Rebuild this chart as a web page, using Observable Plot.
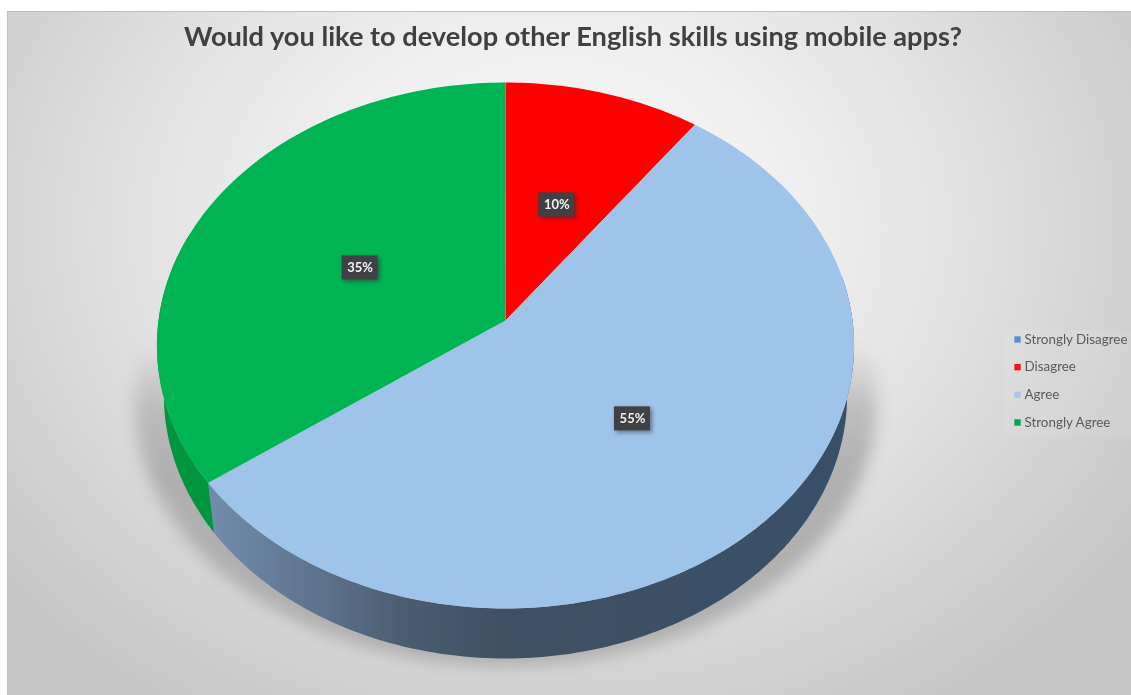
<!DOCTYPE html>
<html><head><meta charset="utf-8">
<script src="https://cdn.jsdelivr.net/npm/d3@7"></script>
<script src="https://cdn.jsdelivr.net/npm/@observablehq/plot@0.6"></script>
<style>
html,body{margin:0;padding:0;background:#fff;}
svg{display:block;}
</style></head><body><div id="chart"></div>
<script>
const title = "Would you like to develop other English skills using mobile apps?";
const categories = ["Strongly Disagree", "Disagree", "Agree", "Strongly Agree"];
const percents = [0, 10, 55, 35];
const sliceColors = ["#5b8ecb", "#ff0000", "#9fc4e9", "#00b454"];
const legendColors = ["#5b8ecb", "#f0121c", "#a9c5e6", "#00a651"];
const labelRadii = [0.5, 0.5, 0.5, 0.48];
const wallGreen = "#009640";

// Excel-like 3D perspective of the unit pie, in pixels relative to the pie centre
const A = 347, B = 260.6, K = 0.095, DEPTH = 50, TAPER = 0.98;
function project(deg, r = 1) {
  const t = deg * Math.PI / 180, u = r * Math.sin(t), v = r * Math.cos(t), w = 1 + K * v;
  return {x: A * u / w, y: B * v / w};
}
const arc = (a0, a1) => {
  const n = Math.max(1, Math.ceil(Math.abs(a1 - a0)));
  return d3.range(n + 1).map(i => a0 + (a1 - a0) * i / n);
};

// cumulative angles
let acc = 0;
const slices = categories.map((name, i) => {
  const a0 = acc * 3.6; acc += percents[i];
  return {name, pct: percents[i], a0, a1: acc * 3.6, lr: labelRadii[i]};
}).filter(d => d.pct > 0);

const topPts = slices.flatMap(s => [
  {slice: s.name, x: 0, y: 0},
  ...arc(s.a0, s.a1).map(a => ({slice: s.name, ...project(a)}))
]);
const VIS0 = 80, VIS1 = 290;
const wallOf = s => {
  const a0 = Math.max(s.a0, VIS0), a1 = Math.min(s.a1, VIS1);
  if (a1 <= a0) return [];
  const upper = arc(a0, a1).map(a => project(a));
  const lower = arc(a1, a0).map(a => { const p = project(a); return {x: p.x * TAPER, y: p.y - DEPTH}; });
  return [...upper, ...lower].map(p => ({slice: s.name, ...p}));
};
const blueWall = wallOf(slices.find(s => s.name === "Agree"));
const greenWall = wallOf(slices.find(s => s.name === "Strongly Agree"));
const shadow = arc(60, 300).map(a => { const p = project(a); return {x: p.x * 1.065, y: p.y - 58}; });
const labels = slices.map(s => ({...s, ...project((s.a0 + s.a1) / 2, s.lr), text: s.pct + "%"}));

const withCss = css => (index, scales, values, dims, ctx, next) => {
  const g = next(index, scales, values, dims, ctx);
  g.setAttribute("style", (g.getAttribute("style") || "") + ";" + css);
  return g;
};

const defs = () => {
  const d = document.createElementNS("http://www.w3.org/2000/svg", "defs");
  d.innerHTML = `
  <radialGradient id="bg" gradientUnits="userSpaceOnUse" cx="0" cy="0" r="1"
    gradientTransform="translate(550 225) scale(700 570)">
    <stop offset="0" stop-color="#fafafa"/><stop offset="0.35" stop-color="#efefef"/>
    <stop offset="0.62" stop-color="#e0e0e0"/><stop offset="0.82" stop-color="#d2d2d2"/>
    <stop offset="1" stop-color="#c6c6c6"/>
  </radialGradient>
  <linearGradient id="wall" gradientUnits="userSpaceOnUse" x1="213" x2="860" y1="0" y2="0">
    <stop offset="0" stop-color="#718ba9"/><stop offset="0.18" stop-color="#5b7189"/>
    <stop offset="0.3" stop-color="#4a5c6f"/><stop offset="0.45" stop-color="#3f5063"/>
    <stop offset="1" stop-color="#375068"/>
  </linearGradient>
  <linearGradient id="shadow" gradientUnits="userSpaceOnUse" x1="0" x2="0" y1="345" y2="470">
    <stop offset="0" stop-color="#adadad" stop-opacity="0"/>
    <stop offset="0.5" stop-color="#adadad" stop-opacity="0.7"/>
    <stop offset="1" stop-color="#adadad" stop-opacity="0.95"/>
  </linearGradient>`;
  return d;
};

const legendX = 1017, legendTextX = 1024, legendY = d3.scaleLinear().domain([0, 3]).range([-19, -102]);
const leg = categories.map((name, i) => ({name, color: legendColors[i]}));
const soft = withCss("filter:blur(.5px)");

const plot = Plot.plot({
  width: 1131, height: 695,
  marginTop: 0, marginRight: 0, marginBottom: 0, marginLeft: 0,
  x: {domain: [-505, 626], range: [0, 1131], axis: null},
  y: {domain: [320, -375], range: [0, 695], axis: null},
  color: {domain: categories, range: sliceColors},
  style: {background: "#fff", overflow: "visible"},
  marks: [
    defs,
    Plot.frame({fill: "url(#bg)", stroke: "#c2c2c2", strokeWidth: 1, insetLeft: 7, insetTop: 11, insetRight: -2, insetBottom: -2}),
    Plot.line(shadow, {x: "x", y: "y", fill: "url(#shadow)", stroke: "none", render: withCss("filter:blur(8px)")}),
    Plot.line(blueWall, {x: "x", y: "y", fill: "url(#wall)", stroke: "none", render: soft}),
    Plot.line(greenWall, {x: "x", y: "y", fill: wallGreen, stroke: "none", render: soft}),
    Plot.line(topPts, {x: "x", y: "y", z: "slice", fill: "slice", stroke: "none", render: soft}),
    Plot.rect(labels, {x1: "x", x2: "x", y1: "y", y2: "y", dy: 3, insetLeft: -18, insetRight: -18, insetTop: -12, insetBottom: -12,
      fill: "#3f4144", render: withCss("filter:drop-shadow(2px 2px 2px rgba(40,40,40,.55))")}),
    Plot.text(labels, {x: "x", y: "y", dy: 3, text: "text", fill: "#f4f4f4", fontSize: 13, fontWeight: 700, fontFamily: "Lato", render: withCss("filter:blur(.4px)")}),
    Plot.text([title], {frameAnchor: "top", dy: 26, dx: 7, text: d => d, fontFamily: "Lato", fontWeight: 700, fontSize: 27.2, fill: "#404040", lineAnchor: "top", render: withCss("filter:blur(.5px)")}),
    Plot.rect([0], {x1: 500, x2: 640, y1: -10, y2: -117, fill: "#ffffff", fillOpacity: 0.07}),
    Plot.dot(leg, {x: () => legendX - 505, y: (d, i) => legendY(i), symbol: "square", r: 3.6, fill: "color", render: withCss("filter:blur(.4px)")}),
    Plot.text(leg, {x: () => legendTextX - 505, y: (d, i) => legendY(i), text: "name", textAnchor: "start", fontFamily: "Lato", fontSize: 13.4, fill: "#5a5a5a", render: withCss("filter:blur(.45px)")})
  ]
});
document.getElementById("chart").appendChild(plot);
</script></body></html>
